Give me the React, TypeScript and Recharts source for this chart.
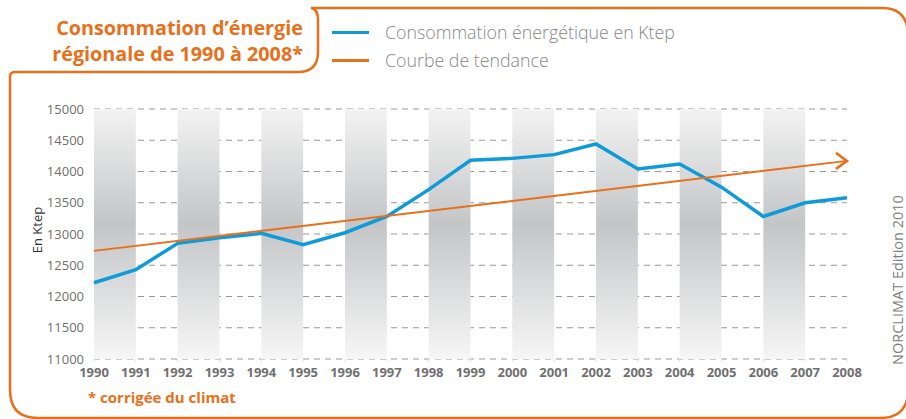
import { CartesianGrid, Legend, Line, LineChart, ReferenceArea, XAxis, YAxis } from "recharts";

const years = [1990, 1991, 1992, 1993, 1994, 1995, 1996, 1997, 1998, 1999, 2000, 2001, 2002, 2003, 2004, 2005, 2006, 2007, 2008];
const consumption = [12220, 12430, 12850, 12940, 13010, 12830, 13020, 13280, 13710, 14180, 14210, 14270, 14440, 14040, 14120, 13750, 13280, 13500, 13580];
// only the two ends of the trend line are given, the line joins them
const trend = [12730, null, null, null, null, null, null, null, null, null, null, null, null, null, null, null, null, null, 14170];
const yTicks = [11000, 11500, 12000, 12500, 13000, 13500, 14000, 14500, 15000];
const shadedBands = [
  [1990, 1991], [1992, 1993], [1994, 1995], [1996, 1997], [1998, 1999],
  [2000, 2001], [2002, 2003], [2004, 2005], [2006, 2007],
];

const ORANGE = "#e8701a";
const BLUE = "#0f9bd7";
const FONT = "'Open Sans', sans-serif";

const data = years.map((year, i) => ({ year, consumption: consumption[i], trend: trend[i] }));

function TrendArrow(props: any) {
  const { cx, cy, index } = props;
  if (index !== years.length - 1 || cy == null) return <g key={`a${index}`} />;
  return (
    <polyline
      key={`a${index}`}
      points={`${cx - 11},${cy - 8} ${cx},${cy} ${cx - 11},${cy + 8}`}
      fill="none"
      stroke={ORANGE}
      strokeWidth={2.5}
    />
  );
}

function LegendBox({ payload }: any) {
  return (
    <div style={{ fontFamily: FONT, fontSize: 17.8, color: "#878787", fontWeight: 300 }}>
      {(payload || []).map((entry: any) => (
        <div key={entry.value} style={{ display: "flex", alignItems: "center", height: 28 }}>
          <span style={{ display: "inline-block", width: 37, height: 3, background: entry.color, marginRight: 16 }} />
          <span>{entry.value}</span>
        </div>
      ))}
    </div>
  );
}

export default function App() {
  return (
    <div style={{ position: "relative", width: 906, height: 419 }}>
      <style>{`body { margin: 0; }`}</style>
      <LineChart width={906} height={419} data={data} margin={{ top: 109, right: 59, bottom: 30, left: 0 }}>
        <defs>
          <linearGradient id="band" x1="0" y1="0" x2="0" y2="1">
            <stop offset="0%" stopColor="#f3f3f3" />
            <stop offset="46%" stopColor="#c4c5c7" />
            <stop offset="100%" stopColor="#f6f6f6" />
          </linearGradient>
        </defs>
        {shadedBands.map(([a, b]) => (
          <ReferenceArea key={a} x1={a} x2={b} y1={11000} y2={15000} fill="url(#band)" fillOpacity={1} stroke="none" ifOverflow="hidden" />
        ))}
        <CartesianGrid vertical={false} stroke="#999" strokeDasharray="6 5" strokeWidth={1.2} />
        <XAxis
          dataKey="year"
          type="number"
          domain={[1990, 2008]}
          ticks={years}
          interval={0}
          axisLine={false}
          tickLine={{ stroke: "#cfe6f3" }}
          tickSize={3}
          tickMargin={6}
          height={30}
          tick={{ fontFamily: FONT, fontSize: 13, fontWeight: 700, fill: "#707070" }}
        />
        <YAxis
          domain={[11000, 15000]}
          ticks={yTicks}
          width={94}
          axisLine={false}
          tickLine={false}
          tickSize={4}
          tickMargin={6}
          tick={{ fontFamily: FONT, fontSize: 13, fill: "#6f6f6f" }}
          label={{
            content: ({ viewBox }: any) => (
              <text
                x={37}
                y={viewBox.y + viewBox.height / 2 - 4}
                transform={`rotate(-90 37 ${viewBox.y + viewBox.height / 2 - 4})`}
                textAnchor="middle"
                dominantBaseline="central"
                fontFamily={FONT}
                fontSize={13}
                fill="#333"
              >
                En Ktep
              </text>
            ),
          }}
        />
        <Legend
          layout="vertical"
          align="center"
          verticalAlign="middle"
          content={<LegendBox />}
          wrapperStyle={{ top: 18, left: 332, width: 420 }}
        />
        <Line
          name="Consommation énergétique en Ktep"
          dataKey="consumption"
          stroke={BLUE}
          strokeWidth={3.5}
          dot={false}
          type="linear"
          isAnimationActive={false}
        />
        <Line
          name="Courbe de tendance"
          dataKey="trend"
          stroke={ORANGE}
          strokeWidth={2}
          connectNulls
          dot={TrendArrow}
          activeDot={false}
          type="linear"
          isAnimationActive={false}
        />
      </LineChart>
      <svg width={906} height={419} style={{ position: "absolute", left: 0, top: 0, pointerEvents: "none" }}>
        <path
          d="M 298 72 H 15 Q 10 72 10 77 V 390 Q 10 418 38 418 H 880 Q 908 418 908 390 V 32 Q 906 8 882 8 H 311 Q 318 9 318 20 V 52 Q 318 72 298 72 Z"
          fill="none"
          stroke={ORANGE}
          strokeWidth={2.5}
        />
        <g fontFamily={FONT} fontWeight={700} fontSize={19.8} fill={ORANGE} textAnchor="end">
          <text x={303} y={35}>Consommation d’énergie</text>
          <text x={303} y={61}>régionale de 1990 à 2008*</text>
        </g>
        <text x={88} y={403} fontFamily={FONT} fontWeight={700} fontSize={15} fill={ORANGE}>
          * corrigée du climat
        </text>
        <text
          x={903}
          y={280}
          transform="rotate(-90 903 280)"
          textAnchor="middle"
          fontFamily={FONT}
          fontSize={14.5}
          fill="#808080"
        >
          NORCLIMAT Edition 2010
        </text>
      </svg>
    </div>
  );
}
